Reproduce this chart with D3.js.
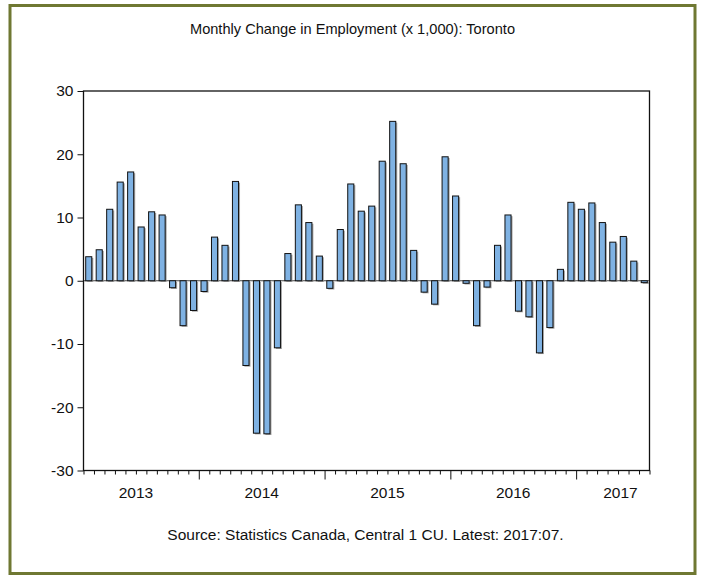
<!DOCTYPE html>
<html>
<head>
<meta charset="utf-8">
<script src="https://cdn.jsdelivr.net/npm/d3@7"></script>
<style>
  html, body { margin: 0; padding: 0; background: #fff; }
  svg { display: block; }
  text { font-family: "Liberation Sans", Arial, sans-serif; fill: #111; }
</style>
</head>
<body>
<svg id="chart" width="704" height="579"></svg>
<script>
const title = "Monthly Change in Employment (x 1,000): Toronto";
const source = "Source: Statistics Canada, Central 1 CU. Latest: 2017:07.";

const months = [
  "2013:02","2013:03","2013:04","2013:05","2013:06","2013:07","2013:08","2013:09","2013:10","2013:11","2013:12",
  "2014:01","2014:02","2014:03","2014:04","2014:05","2014:06","2014:07","2014:08","2014:09","2014:10","2014:11","2014:12",
  "2015:01","2015:02","2015:03","2015:04","2015:05","2015:06","2015:07","2015:08","2015:09","2015:10","2015:11","2015:12",
  "2016:01","2016:02","2016:03","2016:04","2016:05","2016:06","2016:07","2016:08","2016:09","2016:10","2016:11","2016:12",
  "2017:01","2017:02","2017:03","2017:04","2017:05","2017:06","2017:07"
];

const values = [
  3.8, 4.9, 11.3, 15.6, 17.2, 8.5, 10.9, 10.4, -1.1, -7.1, -4.7,
  -1.7, 6.9, 5.6, 15.7, -13.4, -24.1, -24.2, -10.6, 4.3, 12.0, 9.2, 3.9,
  -1.2, 8.1, 15.3, 11.0, 11.8, 18.9, 25.2, 18.5, 4.8, -1.8, -3.7, 19.6,
  13.4, -0.4, -7.1, -1.0, 5.6, 10.4, -4.8, -5.7, -11.4, -7.4, 1.8, 12.4,
  11.3, 12.3, 9.2, 6.1, 7.0, 3.1, -0.3
];

const yTicks = [-30, -20, -10, 0, 10, 20, 30];
const years = ["2013", "2014", "2015", "2016", "2017"];

const svg = d3.select("#chart");
const L = 83.5, R = 649.5, T = 91, B = 470.5;

// outer frame
svg.append("rect")
  .attr("x", 10).attr("y", 5.5).attr("width", 685).attr("height", 568)
  .attr("fill", "none").attr("stroke", "#6f7832").attr("stroke-width", 3);

const x = d3.scaleBand().domain(months).range([L, R]).paddingInner(0.42).paddingOuter(0.21);
const y = d3.scaleLinear().domain([-30, 30]).range([B, T]);
const xi = d3.scaleLinear().domain([0, months.length]).range([L, R]);

// title
svg.append("text").attr("x", (L + R) / 2 - 14).attr("y", 34)
  .attr("text-anchor", "middle").style("font-size", "14.6px").text(title);

// zero line
svg.append("line").attr("x1", L).attr("x2", R).attr("y1", y(0)).attr("y2", y(0))
  .attr("stroke", "#444").attr("stroke-width", 1);

// bars with shadow
const data = months.map((m, i) => ({ m, v: values[i] }));
svg.append("g").selectAll("rect").data(data).join("rect")
  .attr("x", d => x(d.m) + 1.5)
  .attr("y", d => Math.min(y(d.v), y(0)) + 1.2)
  .attr("width", x.bandwidth())
  .attr("height", d => Math.abs(y(d.v) - y(0)))
  .attr("fill", "#8c8c8c").attr("opacity", 0.8);
svg.append("g").selectAll("rect").data(data).join("rect")
  .attr("x", d => x(d.m))
  .attr("y", d => Math.min(y(d.v), y(0)))
  .attr("width", x.bandwidth())
  .attr("height", d => Math.abs(y(d.v) - y(0)))
  .attr("fill", "#7fb2e3").attr("stroke", "#111").attr("stroke-width", 1);

// plot box
svg.append("rect").attr("x", L).attr("y", T).attr("width", R - L).attr("height", B - T)
  .attr("fill", "none").attr("stroke", "#111").attr("stroke-width", 1.3);

// y axis
const yAxis = svg.append("g").attr("transform", `translate(${L},0)`)
  .call(d3.axisLeft(y).tickValues(yTicks).tickSize(6).tickPadding(4).tickFormat(d => String(d)));
yAxis.select(".domain").remove();
yAxis.selectAll("line").attr("stroke", "#111");
yAxis.selectAll("text").style("font-size", "15.5px").style("font-family", "Liberation Sans, Arial, sans-serif").attr("fill", "#111");

// x axis: month boundary ticks, longer at year boundaries
const boundaries = d3.range(0, months.length + 1);
const yearStartIdx = months.map((m, i) => m.endsWith(":01") ? i : -1).filter(i => i >= 0);
const xAxis = svg.append("g").attr("transform", `translate(0,${B})`)
  .call(d3.axisBottom(xi).tickValues(boundaries).tickSize(4).tickFormat(""));
xAxis.select(".domain").remove();
xAxis.selectAll(".tick line").attr("stroke", "#111")
  .attr("y2", d => yearStartIdx.includes(d) ? 9 : 4);

// year labels
years.forEach(yr => {
  const idx = months.map((m, i) => m.startsWith(yr) ? i : -1).filter(i => i >= 0);
  const firstMonth = +months[idx[0]].slice(5);
  const start = idx[0] - (firstMonth - 1);
  let cx = xi(start + 6);
  cx = Math.min(cx, R - 29);
  svg.append("text").attr("x", cx).attr("y", B + 27)
    .attr("text-anchor", "middle").style("font-size", "15.5px").text(yr);
});

// source
svg.append("text").attr("x", (L + R) / 2 - 1).attr("y", 540)
  .attr("text-anchor", "middle").style("font-size", "15.5px").text(source);
</script>
</body>
</html>
